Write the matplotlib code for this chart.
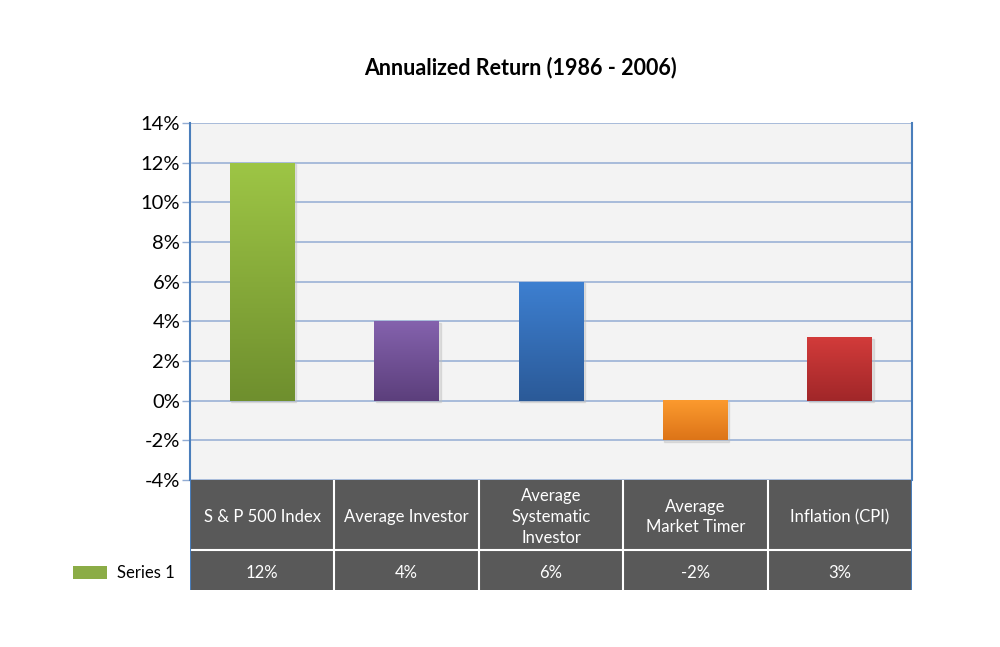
import numpy as np
import matplotlib
matplotlib.use("Agg")
import matplotlib.pyplot as plt
from matplotlib.patches import Rectangle, Patch
from matplotlib.colors import LinearSegmentedColormap

categories = ["S & P 500 Index", "Average Investor", "Average\nSystematic\nInvestor",
              "Average\nMarket Timer", "Inflation (CPI)"]
values = [12, 4, 6, -2, 3.2]
table_labels = ["12%", "4%", "6%", "-2%", "3%"]
series_name = "Series 1"
title = "Annualized Return (1986 - 2006)"
yticks = [-4, -2, 0, 2, 4, 6, 8, 10, 12, 14]

bar_colors = [("#9dc545", "#6f8f2e"), ("#8462ad", "#5c3f7c"), ("#3d7fd0", "#2b5a98"),
              ("#fb9a2e", "#dd7418"), ("#d23b3a", "#a12729")]

plt.rcParams['font.family'] = ['Lato', 'DejaVu Sans']

fig = plt.figure(figsize=(10, 6.47), dpi=100)
W, H = 1000, 647
x0, x1 = 190, 912
ytop, ybot = 123, 480
ax = fig.add_axes([x0 / W, 1 - ybot / H, (x1 - x0) / W, (ybot - ytop) / H])
ax.set_facecolor("#f3f3f3")
n = len(categories)
xs = np.arange(n)
ax.set_xlim(-0.5, n - 0.5)
ax.set_ylim(-4, 14)
ax.set_yticks(yticks)
ax.set_yticklabels([f"{t}%" for t in yticks], fontsize=14.5)
ax.set_xticks([])
ax.yaxis.grid(True, color="#93acd3", linewidth=1.1)
ax.set_axisbelow(True)
for s in ["top", "bottom"]:
    ax.spines[s].set_visible(False)
for s in ["left", "right"]:
    ax.spines[s].set_color("#4a7ebb")
    ax.spines[s].set_linewidth(1.5)
ax.tick_params(axis="y", length=6, color="#93acd3", width=1, pad=1)

bars = ax.bar(xs, values, width=0.45, color="none", edgecolor="none", zorder=3)
for b, (ctop, cbot) in zip(bars, bar_colors):
    bx, by = b.get_x(), b.get_y()
    bw, bh = b.get_width(), b.get_height()
    # subtle shadow
    ax.add_patch(Rectangle((bx + 0.01, by - 0.08), bw, bh, color="#bdbdbd", zorder=2, alpha=0.4))
    cmap = LinearSegmentedColormap.from_list("g", [cbot, ctop])
    grad = np.linspace(0, 1, 100).reshape(-1, 1)
    lo, hi = min(by, by + bh), max(by, by + bh)
    ax.imshow(grad, extent=[bx, bx + bw, lo, hi], origin="lower", cmap=cmap,
              aspect="auto", zorder=3)
ax.set_xlim(-0.5, n - 0.5)
ax.set_ylim(-4, 14)

fig.text(0.52, 1 - 68 / H, title, ha="center", va="center", fontsize=15.5,
         fontweight="bold", color="black")

# data table
tab = fig.add_axes([x0 / W, 1 - 590 / H, (x1 - x0) / W, (590 - ybot) / H])
tab.set_xlim(-0.5, n - 0.5)
tab.set_ylim(0, 110)
tab.axis("off")
tab.add_patch(Rectangle((-0.5, 0), n, 110, color="#595959", zorder=1))
for i in range(1, n):
    tab.plot([i - 0.5, i - 0.5], [0, 110], color="white", lw=1.5, zorder=2)
tab.plot([-0.5, n - 0.5], [40, 40], color="white", lw=1.5, zorder=2)
for i, (c, lab) in enumerate(zip(categories, table_labels)):
    tab.text(i, 73, c, ha="center", va="center", color="white", fontsize=12,
             linespacing=1.35)
    tab.text(i, 17, lab, ha="center", va="center", color="white", fontsize=12)
tab.plot([-0.5, -0.5], [0, 110], color="#4a7ebb", lw=1.5, zorder=3)
tab.plot([n - 0.5, n - 0.5], [0, 110], color="#4a7ebb", lw=1.5, zorder=3)

fig.legend(handles=[Patch(facecolor="#8bac46", edgecolor="none")], labels=[series_name],
           loc="center left", bbox_to_anchor=(60 / W, 1 - 573 / H), frameon=False,
           fontsize=12, handlelength=2.0, handleheight=0.8, handletextpad=0.6,
           borderpad=0.3)

fig.savefig("out.png", dpi=100, facecolor="white")
